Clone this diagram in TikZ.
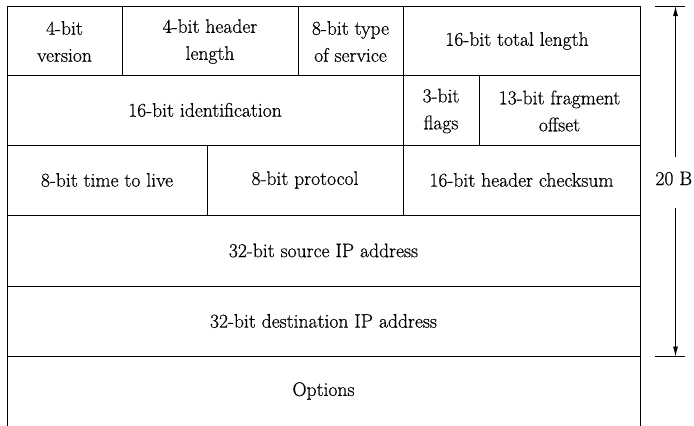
\documentclass[tikz,border=0pt]{standalone}
\usepackage{fontspec}
\newfontfamily\fieldfont{Latin Modern Roman}[FakeBold=0.6]
\usetikzlibrary{arrows.meta}
\begin{document}
\begin{tikzpicture}[x=1pt,y=-1pt,line width=0.9pt,
  cell/.style={align=center,inner sep=0pt,font=\fieldfont\fontsize{19.6}{27}\selectfont},
  dimline/.style={-{Latex[length=10pt,width=5pt]},line width=0.8pt},
  tick/.style={line width=0.8pt}]
\useasboundingbox (0,0) rectangle (694,426);
% outer frame, open at the bottom (options field)
\draw (7,426) -- (7,6) -- (640,6) -- (640,426);
% row separators
\foreach \yy in {75,145,215,286,356} \draw (7,\yy) -- (640,\yy);
% column separators
\draw (122,6) -- (122,75) (298,6) -- (298,75) (403,6) -- (403,75);
\draw (403,75) -- (403,145) (479,75) -- (479,145);
\draw (207,145) -- (207,215) (403,145) -- (403,215);
% field labels
\node[cell] (ver) at (64.5,41.5) {4-bit\\version};
\node[cell] (ihl) at (210,41.5) {4-bit header\\length};
\node[cell] (tos) at (350.5,41.5) {8-bit type\\of service};
\node[cell] (len) at (517,41) {16-bit total length};
\node[cell] (id)  at (205,110) {16-bit identification};
\node[cell] (flg) at (441,111) {3-bit\\flags};
\node[cell] (frg) at (559.5,111) {13-bit fragment\\offset};
\node[cell] (ttl) at (107,180) {8-bit time to live};
\node[cell] (pro) at (305,180) {8-bit protocol};
\node[cell] (chk) at (521.5,180) {16-bit header checksum};
\node[cell] (src) at (323.5,250.5) {32-bit source IP address};
\node[cell] (dst) at (323.5,321) {32-bit destination IP address};
\node[cell] (opt) at (323.5,391) {Options};
% header size dimension
\node[cell,anchor=base west] (sz) at (655,185) {20 B};
\coordinate (tA) at (655,6);
\coordinate (tB) at (685,6);
\coordinate (bA) at (655,356.5);
\coordinate (bB) at (685,356.5);
\coordinate (top) at (675.5,6);
\coordinate (bot) at (675.5,356.5);
\coordinate (gapT) at (675.5,157);
\coordinate (gapB) at (675.5,208);
\draw[tick] (tA) -- (tB);
\draw[tick] (bA) -- (bB);
\draw[dimline] (gapT) -- (top);
\draw[dimline] (gapB) -- (bot);
\end{tikzpicture}
\end{document}
